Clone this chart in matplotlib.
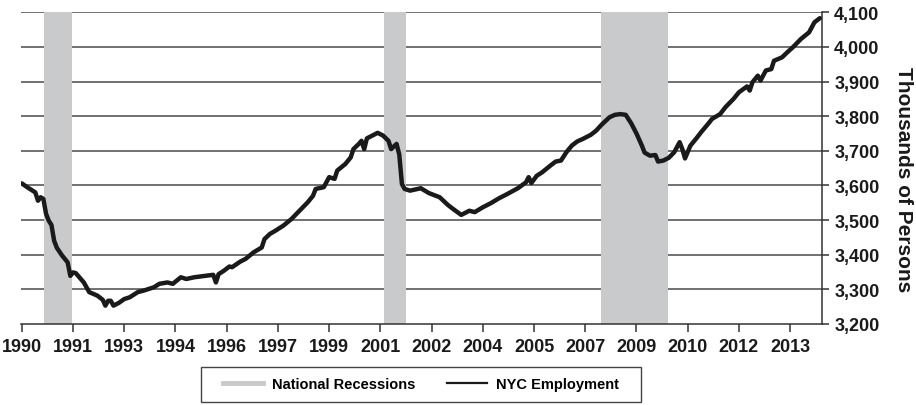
import matplotlib
matplotlib.use("Agg")
import matplotlib.pyplot as plt
from matplotlib.lines import Line2D
from matplotlib.patches import Rectangle

plt.rcParams['font.family'] = ['Liberation Sans', 'DejaVu Sans']

# months since Jan 1990, NYC employment (thousands)
months = [0, 2, 4, 5, 6, 7, 8, 9, 10, 11, 12, 13, 15, 17, 18, 19, 20, 23, 25, 28,
          30, 31, 32, 33, 34, 36, 38, 40, 43, 45, 47, 49, 51, 54, 56, 59, 61, 64, 67, 71,
          72, 73, 75, 77, 78, 81, 83, 86, 89, 90, 92, 94, 97, 100, 103, 106, 108, 109, 112, 114,
          116, 117, 120, 122, 123, 125, 126, 127, 128, 130, 132, 134, 136, 137, 139, 140, 141, 142, 144, 148,
          151, 155, 158, 160, 163, 166, 168, 171, 174, 177, 180, 184, 187, 188, 189, 191, 193, 196, 198, 200,
          202, 204, 206, 208, 211, 213, 215, 218, 220, 222, 224, 226, 228, 230, 231, 233, 235, 236, 238, 240,
          242, 244, 245, 246, 248, 250, 252, 255, 256, 259, 261, 264, 266, 269, 270, 271, 273, 274, 276, 278,
          279, 282, 284, 286, 289, 292, 294, 296]
employment = [3606, 3595, 3585, 3580, 3556, 3566, 3561, 3518, 3498, 3486, 3440, 3420, 3397, 3378, 3339, 3349, 3347, 3320, 3292, 3282,
              3270, 3253, 3267, 3267, 3253, 3261, 3272, 3277, 3292, 3296, 3301, 3306, 3316, 3320, 3316, 3335, 3330, 3335, 3338, 3342,
              3320, 3344, 3354, 3366, 3364, 3380, 3388, 3407, 3421, 3445, 3460, 3469, 3484, 3503, 3527, 3551, 3570, 3590, 3595, 3624,
              3619, 3643, 3662, 3681, 3705, 3720, 3729, 3705, 3736, 3744, 3752, 3744, 3729, 3705, 3720, 3690, 3604, 3590, 3585, 3592,
              3578, 3566, 3544, 3532, 3515, 3527, 3523, 3537, 3549, 3563, 3575, 3592, 3609, 3624, 3607, 3628, 3638, 3657, 3669, 3672,
              3696, 3715, 3727, 3734, 3746, 3758, 3775, 3797, 3804, 3806, 3804, 3780, 3750, 3715, 3695, 3686, 3688, 3669, 3672, 3680,
              3696, 3725, 3705, 3678, 3715, 3734, 3754, 3782, 3792, 3806, 3826, 3850, 3869, 3886, 3874, 3898, 3917, 3903, 3932, 3936,
              3960, 3970, 3985, 3999, 4023, 4042, 4071, 4083]

rec_start = [8.2, 134.3, 214.7]
rec_end = [18.7, 142.4, 239.6]

tick_months = list(range(0, 286, 19))
tick_labels = ['1990', '1991', '1993', '1994', '1996', '1997', '1999', '2001',
               '2002', '2004', '2005', '2007', '2009', '2010', '2012', '2013']
y_ticks = list(range(3200, 4101, 100))

rec_color = '#c9cacc'
line_color = '#1a1a1a'

fig = plt.figure(figsize=(9.16, 4.06), dpi=100)
ax = fig.add_axes([21 / 916, 1 - 325 / 406, (821.7 - 21) / 916, (325 - 13.3) / 406])

for s, e in zip(rec_start, rec_end):
    ax.axvspan(s, e, color=rec_color, lw=0, zorder=1)

for y in y_ticks[1:]:
    ax.axhline(y, color='#4a4a4a', lw=1.1, zorder=0.5)

ax.plot(months, employment, color=line_color, lw=3.2, solid_joinstyle='round',
        solid_capstyle='round', zorder=3)

ax.set_xlim(-0.3, 296.7)
ax.set_ylim(3200, 4100)
ax.set_xticks(tick_months)
ax.set_xticklabels(tick_labels, fontsize=13, fontweight='bold', color='#1a1a1a')
ax.set_yticks(y_ticks)
ax.set_yticklabels(['{:,}'.format(v) for v in y_ticks], fontsize=13, fontweight='bold', color='#1a1a1a')
ax.yaxis.tick_right()
ax.tick_params(axis='x', direction='out', length=6, width=1.1, color='#333333', pad=4)
ax.tick_params(axis='y', direction='out', length=5, width=1.1, color='#333333', pad=4)
fig.text(904 / 916, 1 - 180 / 406, 'Thousands of Persons', fontsize=15, fontweight='bold',
         rotation=-90, ha='center', va='center', color='#1a1a1a')

for side in ['top', 'left']:
    ax.spines[side].set_visible(False)
for side in ['bottom', 'right']:
    ax.spines[side].set_color('#333333')
    ax.spines[side].set_linewidth(1.1)

# legend box drawn by hand, entries placed inside
fig.patches.append(Rectangle((201 / 916, 1 - 403 / 406), 440 / 916, 35 / 406,
                             transform=fig.transFigure, fill=False,
                             edgecolor='#444444', lw=1.0))
handles = [Line2D([], [], color=rec_color, lw=3.5),
           Line2D([], [], color=line_color, lw=1.6)]
leg = fig.legend(handles, ['National Recessions', 'NYC Employment'], ncol=2,
                 loc='center', bbox_to_anchor=(421 / 916, 1 - 385.5 / 406),
                 frameon=False, prop={'size': 10.5, 'weight': 'bold'},
                 handlelength=2.75, columnspacing=2.2, handletextpad=0.6)

fig.savefig('out.png', dpi=100)
